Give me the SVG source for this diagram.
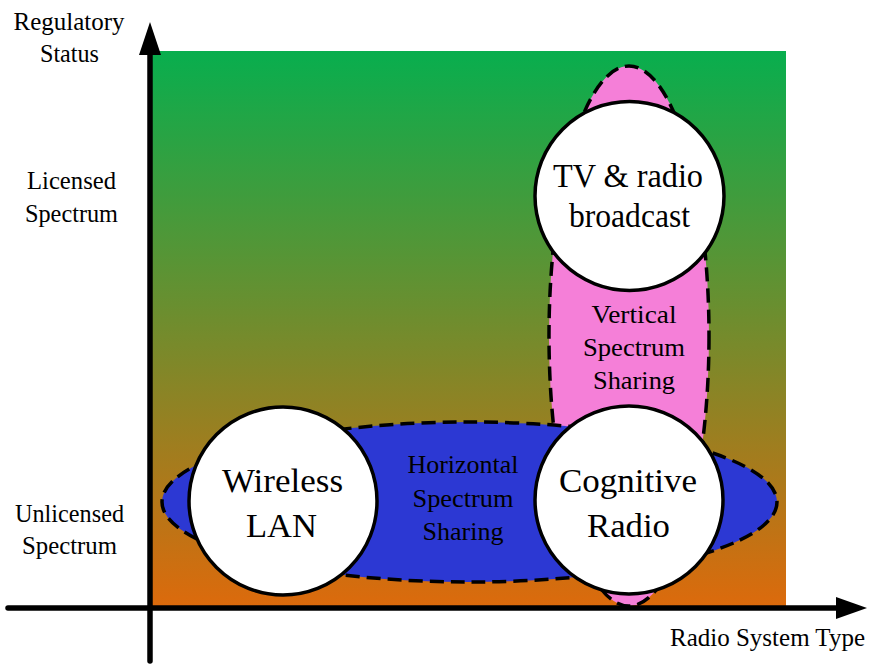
<svg xmlns="http://www.w3.org/2000/svg" width="869" height="664" viewBox="0 0 869 664">
  <style>
    .lbl { font-size: 25px; fill: #000; text-anchor: middle; }
    .big { font-size: 34px; fill: #000; text-anchor: middle; }
    .node { fill: #ffffff; stroke: #000; stroke-width: 3.5; }
    .zone { stroke: #000; stroke-width: 3.5; stroke-dasharray: 14 7; }
    .axis { stroke: #000; stroke-width: 5.5; stroke-linecap: round; fill: none; }
  </style>
  <defs>
    <linearGradient id="bg" x1="0" y1="0" x2="0" y2="1">
      <stop offset="0" stop-color="#08ae4e"/>
      <stop offset="1" stop-color="#dc6a0c"/>
    </linearGradient>
  </defs>

  <g font-family="Liberation Serif, DejaVu Serif, serif">
  <!-- plot background -->
  <rect x="152" y="51" width="634" height="555" fill="url(#bg)"/>

  <!-- sharing zones -->
  <g id="vertical-sharing">
    <ellipse class="zone" cx="629" cy="336" rx="80" ry="270" fill="#f57fd8"/>
    <text class="lbl" x="634" y="323" textLength="85" lengthAdjust="spacingAndGlyphs">Vertical</text>
    <text class="lbl" x="634" y="356" textLength="102" lengthAdjust="spacingAndGlyphs">Spectrum</text>
    <text class="lbl" x="634" y="389" textLength="82" lengthAdjust="spacingAndGlyphs">Sharing</text>
  </g>
  <g id="horizontal-sharing">
    <ellipse class="zone" cx="469.5" cy="502" rx="307.5" ry="80" fill="#2c38d3"/>
    <text class="lbl" x="463" y="473" textLength="111" lengthAdjust="spacingAndGlyphs">Horizontal</text>
    <text class="lbl" x="463" y="507" textLength="101" lengthAdjust="spacingAndGlyphs">Spectrum</text>
    <text class="lbl" x="463" y="540" textLength="81" lengthAdjust="spacingAndGlyphs">Sharing</text>
  </g>

  <!-- system nodes -->
  <g id="tv-radio">
    <circle class="node" cx="629.5" cy="196" r="94.5"/>
    <text class="big" x="628" y="187" textLength="150" lengthAdjust="spacingAndGlyphs">TV &amp; radio</text>
    <text class="big" x="629.5" y="227" textLength="121" lengthAdjust="spacingAndGlyphs">broadcast</text>
  </g>
  <g id="wireless-lan">
    <circle class="node" cx="283" cy="501" r="94"/>
    <text class="big" x="282.5" y="492" textLength="121" lengthAdjust="spacingAndGlyphs">Wireless</text>
    <text class="big" x="281.5" y="537" textLength="71" lengthAdjust="spacingAndGlyphs">LAN</text>
  </g>
  <g id="cognitive-radio">
    <circle class="node" cx="629" cy="500" r="94"/>
    <text class="big" x="628" y="492" textLength="138" lengthAdjust="spacingAndGlyphs">Cognitive</text>
    <text class="big" x="628.5" y="537" textLength="83" lengthAdjust="spacingAndGlyphs">Radio</text>
  </g>

  <!-- axes -->
  <g id="connectors">
    <line class="axis" x1="150" y1="661" x2="150" y2="50"/>
    <polygon points="150,22 161,55 139,55" fill="#000"/>
    <line class="axis" x1="8" y1="608" x2="840" y2="608"/>
    <polygon points="867,608 836,597 836,619" fill="#000"/>
  </g>

  <!-- axis labels -->
  <g id="axis-labels">
    <text class="lbl" x="69" y="30" textLength="111" lengthAdjust="spacingAndGlyphs">Regulatory</text>
    <text class="lbl" x="69.5" y="62" textLength="59" lengthAdjust="spacingAndGlyphs">Status</text>
    <text class="lbl" x="71.5" y="189" textLength="89" lengthAdjust="spacingAndGlyphs">Licensed</text>
    <text class="lbl" x="71.5" y="222" textLength="93" lengthAdjust="spacingAndGlyphs">Spectrum</text>
    <text class="lbl" x="69.5" y="522" textLength="109" lengthAdjust="spacingAndGlyphs">Unlicensed</text>
    <text class="lbl" x="69.5" y="554" textLength="95" lengthAdjust="spacingAndGlyphs">Spectrum</text>
    <text class="lbl" x="865" y="646" style="text-anchor:end" textLength="195" lengthAdjust="spacingAndGlyphs">Radio System Type</text>
  </g>
  </g>
</svg>
